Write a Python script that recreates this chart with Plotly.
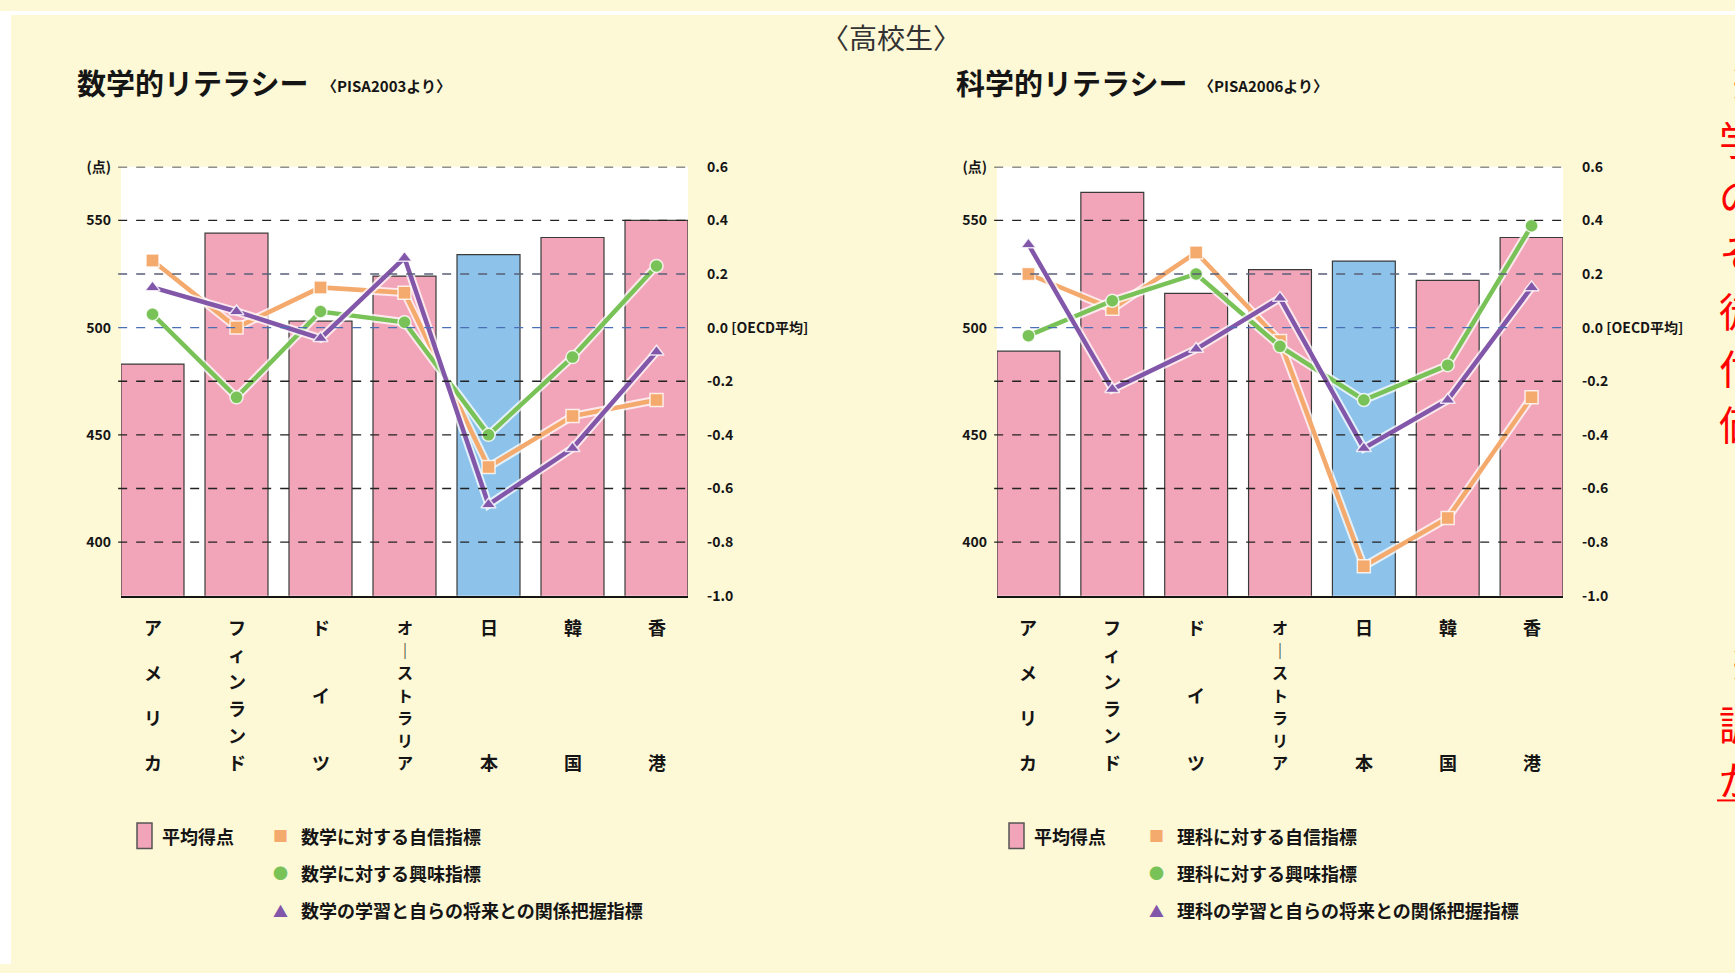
import plotly.graph_objects as go

# ---- data -------------------------------------------------------------
countries = ["アメリカ", "フィンランド", "ドイツ", "オーストラリア", "日本", "韓国", "香港"]

math_score = [483, 544, 503, 524, 534, 542, 550]
math_confidence = [0.25, 0.00, 0.15, 0.13, -0.52, -0.33, -0.27]
math_interest = [0.05, -0.26, 0.06, 0.02, -0.40, -0.11, 0.23]
math_relevance = [0.15, 0.06, -0.04, 0.26, -0.66, -0.45, -0.09]

sci_score = [489, 563, 516, 527, 531, 522, 542]
sci_confidence = [0.20, 0.07, 0.28, -0.05, -0.89, -0.71, -0.26]
sci_interest = [-0.03, 0.10, 0.20, -0.07, -0.27, -0.14, 0.38]
sci_relevance = [0.31, -0.23, -0.08, 0.11, -0.45, -0.27, 0.15]

score_ticks = [400, 450, 500, 550]
index_ticks = [-1.0, -0.8, -0.6, -0.4, -0.2, 0.0, 0.2, 0.4, 0.6]

math_legend = ["数学に対する自信指標", "数学に対する興味指標", "数学の学習と自らの将来との関係把握指標"]
sci_legend = ["理科に対する自信指標", "理科に対する興味指標", "理科の学習と自らの将来との関係把握指標"]

# ---- style ------------------------------------------------------------
W, H = 1735, 973
CREAM = "#FDF8D6"
PINK = "#F2A5B8"
BLUE = "#8DC3EA"
ORANGE = "#F4A96D"
GREEN = "#79C257"
PURPLE = "#8256A9"
INK = "#151515"
FONT = "Noto Sans CJK JP"

score_range = [375, 575]
index_range = [-1.0, 0.6]
y_dom = [1 - 597 / H, 1 - 159 / H]
bar_colors = [BLUE if c == "日本" else PINK for c in countries]


def px(x):
    return x / W


def py(y):
    return 1 - y / H


panels = [
    dict(xa="x", ya="y", yb="y2", dom=[px(121), px(688)],
         score=math_score, lines=[math_confidence, math_interest, math_relevance],
         title="数学的リテラシー", sub="〈PISA2003より〉", tx=75, sx=320,
         legend=math_legend, lg_box=137, lg_mark=280),
    dict(xa="x2", ya="y3", yb="y4", dom=[px(997), px(1563)],
         score=sci_score, lines=[sci_confidence, sci_interest, sci_relevance],
         title="科学的リテラシー", sub="〈PISA2006より〉", tx=954, sx=1197,
         legend=sci_legend, lg_box=1009, lg_mark=1156),
]

series_style = [
    (ORANGE, "square"),
    (GREEN, "circle"),
    (PURPLE, "triangle-up"),
]

fig = go.Figure()
shapes = []
annotations = []
layout_axes = {}

for k, p in enumerate(panels):
    fig.add_trace(go.Bar(
        x=countries, y=p["score"], xaxis=p["xa"], yaxis=p["ya"],
        width=0.75, marker=dict(color=bar_colors, line=dict(color="#3a3a3a", width=1.2)),
        showlegend=False,
    ))
    for vals, (col, sym) in zip(p["lines"], series_style):
        # light halo under each index line
        fig.add_trace(go.Scatter(
            x=countries, y=vals, xaxis=p["xa"], yaxis=p["yb"], mode="lines",
            line=dict(color="rgba(255,255,255,0.75)", width=8.5), showlegend=False,
            hoverinfo="skip",
        ))
        fig.add_trace(go.Scatter(
            x=countries, y=vals, xaxis=p["xa"], yaxis=p["yb"], mode="lines+markers",
            line=dict(color=col, width=4.5),
            marker=dict(symbol=sym, size=13, color=col,
                        line=dict(color="rgba(255,255,255,0.8)", width=1.5)),
            showlegend=False,
        ))

    xa_key = "xaxis" if p["xa"] == "x" else "xaxis2"
    ya_key = "yaxis" if p["ya"] == "y" else "yaxis3"
    yb_key = "yaxis2" if p["yb"] == "y2" else "yaxis4"

    layout_axes[xa_key] = dict(
        domain=p["dom"], anchor=p["ya"], type="category", range=[-0.375, 6.375],
        showticklabels=False, showgrid=False, zeroline=False, ticks="",
        showline=True, linecolor=INK, linewidth=2, fixedrange=True,
    )
    layout_axes[ya_key] = dict(
        domain=y_dom, anchor=p["xa"], range=score_range,
        tickvals=score_ticks + [score_range[1]],
        ticktext=[str(v) for v in score_ticks] + ["(点)"],
        showgrid=False, zeroline=False, ticks="", ticklabelstandoff=9,
        tickfont=dict(family=FONT, size=14, color=INK, weight="bold"),
    )
    layout_axes[yb_key] = dict(
        domain=y_dom, anchor=p["xa"], overlaying=p["ya"], side="right",
        range=index_range, tickvals=index_ticks,
        ticktext=[f"{v:.1f} [OECD平均]" if v == 0 else f"{v:.1f}" for v in index_ticks],
        showgrid=False, zeroline=False, ticks="", ticklabelstandoff=18,
        tickfont=dict(family=FONT, size=14, color=INK, weight="bold"),
    )

    # dashed reference lines
    for v in index_ticks[1:]:
        col = "#4A6FB5" if v == 0 else ("#5a5f78" if v == 0.2 else "#222222")
        shapes.append(dict(
            type="line", xref=f"{p['xa']} domain", yref=p["yb"],
            x0=-0.005, x1=1.0, y0=v, y1=v, layer="above",
            line=dict(color=col, width=1.3, dash="dash"),
        ))

    # vertical category labels, characters spread evenly
    top, bottom = py(629), py(767)
    for c in countries:
        chars = ["｜" if ch == "ー" else ch for ch in c]
        n = len(chars)
        size = 18 if n < 7 else 16
        for i, ch in enumerate(chars):
            annotations.append(dict(
                x=c, xref=p["xa"], y=top - i * (top - bottom) / (n - 1), yref="paper",
                text=ch, showarrow=False, xanchor="center", yanchor="middle",
                borderpad=0,
                font=dict(family=FONT, size=size, color=INK, weight="bold"),
            ))

    # titles
    annotations.append(dict(
        x=px(p["tx"]), y=py(73), xref="paper", yref="paper", text=p["title"],
        showarrow=False, xanchor="left", yanchor="middle",
        font=dict(family=FONT, size=29, color=INK, weight="bold"),
    ))
    annotations.append(dict(
        x=px(p["sx"]), y=py(76), xref="paper", yref="paper", text=p["sub"],
        showarrow=False, xanchor="left", yanchor="middle",
        font=dict(family=FONT, size=15, color=INK, weight="bold"),
    ))

    # legend
    shapes.append(dict(
        type="rect", xref="paper", yref="paper",
        x0=px(p["lg_box"]), x1=px(p["lg_box"] + 15), y0=py(855), y1=py(829),
        fillcolor=PINK, line=dict(color="#555555", width=1.5), layer="above",
    ))
    annotations.append(dict(
        x=px(p["lg_box"] + 23), y=py(842), xref="paper", yref="paper", text="平均得点",
        showarrow=False, xanchor="left", yanchor="middle",
        font=dict(family=FONT, size=18, color=INK, weight="bold"),
    ))
    for j, ((col, sym), label) in enumerate(zip(series_style, p["legend"])):
        yy = py([842, 880, 918][j])
        glyph = {"square": "■", "circle": "●", "triangle-up": "▲"}[sym]
        annotations.append(dict(
            x=px(p["lg_mark"]), y=yy, xref="paper", yref="paper", text=glyph,
            showarrow=False, xanchor="center", yanchor="middle",
            font=dict(family=FONT, size=15, color=col),
        ))
        annotations.append(dict(
            x=px(p["lg_mark"] + 19), y=yy, xref="paper", yref="paper", text=label,
            showarrow=False, xanchor="left", yanchor="middle",
            font=dict(family=FONT, size=18, color=INK, weight="bold"),
        ))

# heading
annotations.append(dict(
    x=px(891), y=py(27), xref="paper", yref="paper", text="〈高校生〉",
    showarrow=False, xanchor="center", yanchor="middle",
    font=dict(family=FONT, size=28, color="#333333"),
))

# red side notes (run off the right edge)
side_lines = [("※", 72, 10), ("学", 130, 0), ("の", 188, 0), ("そ", 246, 0), ("徒", 305, 0),
              ("付", 363, 0), ("価", 421, 0), ("※", 666, 10), ("調", 727, 0), ("が", 783, 0)]
for txt, yy, dx in side_lines:
    annotations.append(dict(
        x=px(1717 + dx), y=py(yy), xref="paper", yref="paper", text=txt,
        showarrow=False, xanchor="left", yanchor="middle",
        font=dict(family=FONT, size=40, color="#FF0000"),
    ))
shapes.append(dict(type="line", xref="paper", yref="paper", x0=px(1717), x1=1.0,
                   y0=py(806), y1=py(806), line=dict(color="#FF0000", width=2)))

# white margin strips
shapes.append(dict(type="rect", xref="paper", yref="paper", x0=0, x1=px(11), y0=0, y1=1,
                   fillcolor="white", line=dict(width=0), layer="below"))
shapes.append(dict(type="rect", xref="paper", yref="paper", x0=0, x1=1, y0=py(4), y1=1,
                   fillcolor="white", line=dict(width=0), layer="below"))

fig.update_layout(
    width=W, height=H, margin=dict(l=0, r=0, t=0, b=0),
    paper_bgcolor=CREAM, plot_bgcolor="white",
    showlegend=False, barmode="overlay",
    font=dict(family=FONT, color=INK),
    shapes=shapes, annotations=annotations,
    **layout_axes,
)

fig.write_html("out.html", config={"displayModeBar": False})
